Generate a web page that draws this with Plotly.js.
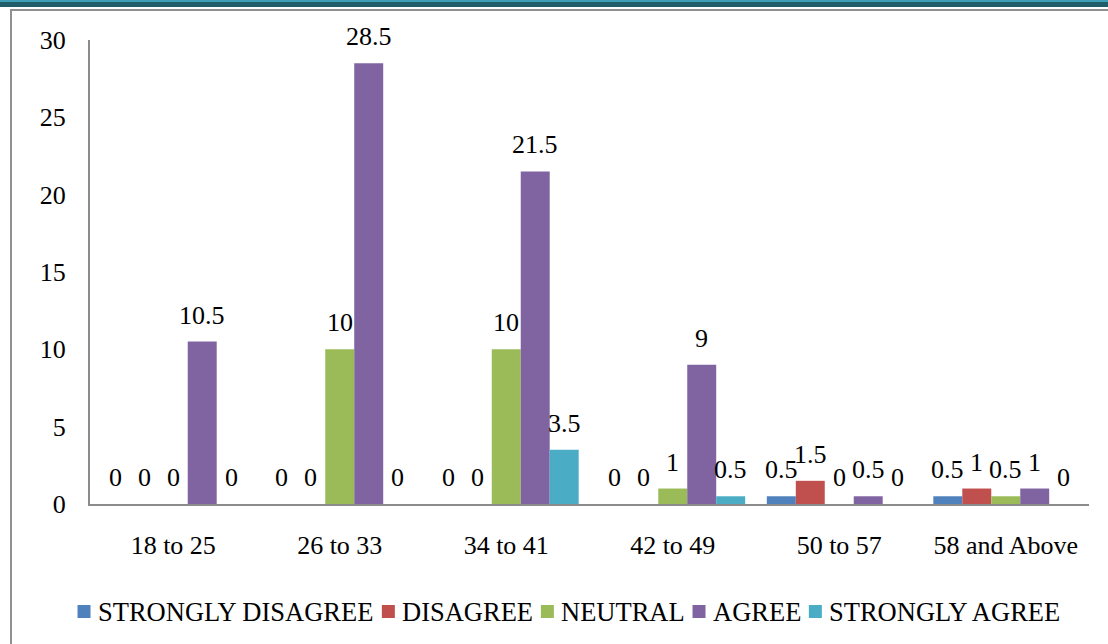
<!DOCTYPE html>
<html>
<head>
<meta charset="utf-8">
<script src="https://cdn.plot.ly/plotly-3.0.1.min.js"></script>
<style>
  html, body { margin: 0; padding: 0; background: #ffffff; }
  #wrap { position: relative; width: 1108px; height: 644px; overflow: hidden; }
  #chart { position: absolute; left: 0; top: 0; width: 1108px; height: 644px; }
  .band-light { position: absolute; left: 0; top: 0; width: 1108px; height: 2px; background: #3f9fb7; }
  .band-dark { position: absolute; left: 0; top: 2px; width: 1108px; height: 5px; background: #225d6a; }
  .frame { position: absolute; left: 10px; top: 9px; width: 1200px; height: 700px;
           border-left: 2px solid #909090; border-top: 2px solid #909090; pointer-events: none; }
</style>
</head>
<body>
<div id="wrap">
  <div id="chart"></div>
  <div class="band-light"></div>
  <div class="band-dark"></div>
  <div class="frame"></div>
</div>
<script>
// Age groups on the category axis
const ageGroups = ["18 to 25", "26 to 33", "34 to 41", "42 to 49", "50 to 57", "58 and Above"];

// Responses per age group, one array per answer
const stronglyDisagree = [0, 0, 0, 0, 0.5, 0.5];
const disagree         = [0, 0, 0, 0, 1.5, 1];
const neutral          = [0, 10, 10, 1, 0, 0.5];
const agree            = [10.5, 28.5, 21.5, 9, 0.5, 1];
const stronglyAgree    = [0, 0, 3.5, 0.5, 0, 0];

const seriesNames = ["STRONGLY DISAGREE", "DISAGREE", "NEUTRAL", "AGREE", "STRONGLY AGREE"];
const seriesValues = [stronglyDisagree, disagree, neutral, agree, stronglyAgree];
const seriesColors = ["#4f81bd", "#c0504d", "#9bbb59", "#8064a2", "#4bacc6"];

const FONT = "Liberation Serif, Times New Roman, serif";
const FS = 26;
const LEGEND_FS = 26.5;
const W = 1108, H = 644;
const margin = { l: 90, r: 19, t: 40, b: 140, pad: 0 };
const bargap = 0.13;

const plotW = W - margin.l - margin.r;
const plotH = H - margin.t - margin.b;
const groupPx = plotW / ageGroups.length;
const barPx = groupPx * (1 - bargap) / seriesNames.length;

// pixel -> paper coordinate helpers
const px2x = px => (px - margin.l) / plotW;
const px2y = py => 1 - (py - margin.t) / plotH;

const traces = seriesNames.map((name, i) => ({
  type: "bar",
  name: name,
  x: ageGroups,
  y: seriesValues[i],
  marker: { color: seriesColors[i], line: { width: 0 } },
  hoverinfo: "skip",
  showlegend: false
}));

// Value labels above every bar (zeros included)
const annotations = [];
seriesValues.forEach((vals, i) => {
  const offset = (i - (seriesNames.length - 1) / 2) * barPx;
  vals.forEach((v, j) => {
    annotations.push({
      x: ageGroups[j], y: v, xref: "x", yref: "y",
      text: String(v), showarrow: false,
      xanchor: "center", yanchor: "bottom",
      xshift: offset, yshift: 10,
      font: { family: FONT, size: FS, color: "#000000" }
    });
  });
});

// Single-row legend under the axis: small square key followed by its name
const shapes = [];
const ctx = document.createElement("canvas").getContext("2d");
ctx.font = LEGEND_FS + "px 'Liberation Serif', 'Times New Roman', serif";
const keySize = 13, keyToText = 19, itemGap = 9;
const legendCenterX = 569.5, legendCenterY = 611.5;
const textW = seriesNames.map(n => ctx.measureText(n).width);
const totalW = textW.reduce((a, w) => a + keyToText + w, 0) + itemGap * (seriesNames.length - 1);
let cursor = legendCenterX - totalW / 2;
seriesNames.forEach((name, i) => {
  shapes.push({
    type: "rect", xref: "paper", yref: "paper", layer: "above",
    x0: px2x(cursor), x1: px2x(cursor + keySize),
    y0: px2y(legendCenterY + keySize / 2), y1: px2y(legendCenterY - keySize / 2),
    fillcolor: seriesColors[i], line: { width: 0 }
  });
  annotations.push({
    xref: "paper", yref: "paper",
    x: px2x(cursor + keyToText), y: px2y(legendCenterY),
    xanchor: "left", yanchor: "middle", borderpad: 0,
    text: name, showarrow: false,
    font: { family: FONT, size: LEGEND_FS, color: "#000000" }
  });
  cursor += keyToText + textW[i] + itemGap;
});

const axisLine = "#8c8c8c";

const layout = {
  width: W, height: H,
  margin: margin,
  paper_bgcolor: "#ffffff",
  plot_bgcolor: "#ffffff",
  barmode: "group",
  bargap: bargap,
  bargroupgap: 0,
  showlegend: false,
  font: { family: FONT, size: FS, color: "#000000" },
  xaxis: {
    type: "category",
    showline: true, linecolor: axisLine, linewidth: 2,
    showgrid: false, zeroline: false, ticks: "",
    ticklabelstandoff: 17,
    tickfont: { family: FONT, size: FS, color: "#000000" }
  },
  yaxis: {
    range: [0, 30], dtick: 5, tick0: 0,
    showline: true, linecolor: axisLine, linewidth: 2,
    showgrid: false, zeroline: false, ticks: "",
    ticklabelstandoff: 17,
    tickfont: { family: FONT, size: FS, color: "#000000" }
  },
  shapes: shapes,
  annotations: annotations
};

Plotly.newPlot("chart", traces, layout, { staticPlot: true, displayModeBar: false });
</script>
</body>
</html>
